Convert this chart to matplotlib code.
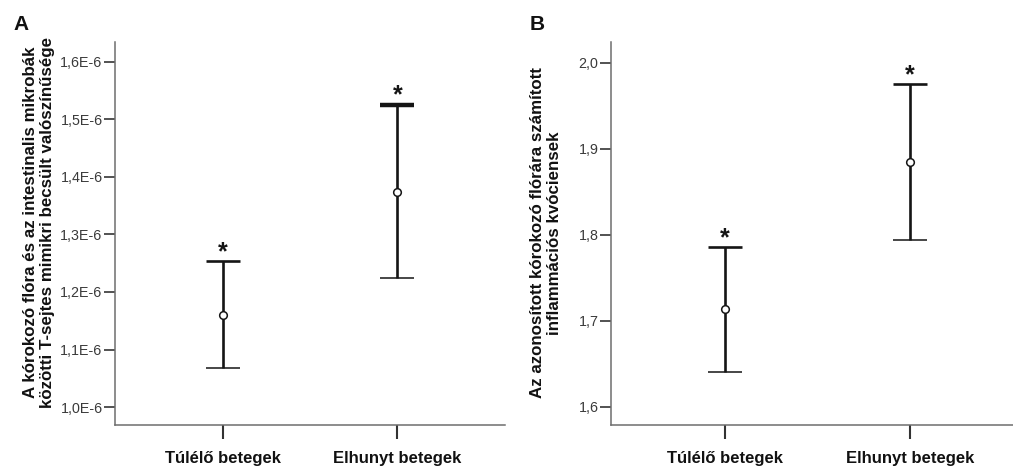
import matplotlib
matplotlib.use("Agg")
import matplotlib.pyplot as plt
from matplotlib.ticker import FuncFormatter
import numpy as np

plt.rcParams['font.family'] = ['Liberation Sans', 'DejaVu Sans']

categories = ['Túlélő betegek', 'Elhunyt betegek']

# Panel A
a_mean = [1.160e-6, 1.373e-6]
a_low = [1.068e-6, 1.224e-6]
a_high = [1.253e-6, 1.525e-6]
a_ticks = [1.0e-6, 1.1e-6, 1.2e-6, 1.3e-6, 1.4e-6, 1.5e-6, 1.6e-6]
a_ylabel = "A kórokozó flóra és az intestinalis mikrobák\nközötti T-sejtes mimikri becsült valószínűsége"

# Panel B
b_mean = [1.714, 1.884]
b_low = [1.641, 1.794]
b_high = [1.786, 1.975]
b_ticks = [1.6, 1.7, 1.8, 1.9, 2.0]
b_ylabel = "Az azonosított kórokozó flórára számított\ninflammációs kvóciensek"

W, H = 1013, 471
fig = plt.figure(figsize=(W / 100, H / 100), dpi=100)

spine_col = '#6e6e6e'
line_col = '#151515'


def panel(rect, mean, low, high, ylim, ticks, fmt, ylabel, letter, letter_x,
          ylabel_x, ylabel_y, capthicks):
    ax = fig.add_axes(rect)
    x = np.arange(len(categories))
    mean = np.array(mean)
    low = np.array(low)
    high = np.array(high)
    for i in range(len(x)):
        yerr = np.array([[mean[i] - low[i]], [high[i] - mean[i]]])
        eb = ax.errorbar([x[i]], [mean[i]], yerr=yerr, fmt='o', color=line_col,
                         ecolor=line_col, elinewidth=1.9, capsize=12.5,
                         capthick=1.9, ms=5.5, mfc='white', mec=line_col,
                         mew=1.1, zorder=3)
        caps = eb[1]
        caps[1].set_markeredgewidth(capthicks[i])
    for xi, hi in zip(x, high):
        ax.annotate('*', (xi, hi), xytext=(0, 6.5), textcoords='offset points',
                    ha='center', va='center', fontsize=18, fontweight='bold',
                    color=line_col)
    ax.set_xlim(-0.617, 1.617)
    ax.set_ylim(*ylim)
    ax.set_yticks(ticks)
    ax.yaxis.set_major_formatter(FuncFormatter(fmt))
    ax.set_xticks(x)
    ax.set_xticklabels(categories, fontsize=12, fontweight='bold', color='#111111')
    for s in ['top', 'right']:
        ax.spines[s].set_visible(False)
    for s in ['left', 'bottom']:
        ax.spines[s].set_color(spine_col)
        ax.spines[s].set_linewidth(1.1)
    ax.tick_params(axis='y', length=8, width=1.3, color='#444444',
                   labelsize=10.3, labelcolor='#3a3a3a', pad=1)
    ax.tick_params(axis='x', length=10, width=1.5, color='#333333', pad=9)
    fig.text(ylabel_x, 1 - ylabel_y / H, ylabel, rotation=90,
             ha='center', va='center', fontsize=12.2, fontweight='bold',
             color='#111111', linespacing=1.15)
    fig.text(letter_x, 1 - 25 / H, letter, ha='center', va='center',
             fontsize=15, fontweight='bold', color='#111111')
    return ax


def fmt_a(v, pos):
    return f"{v * 1e6:.1f}".replace('.', ',') + "E-6"


def fmt_b(v, pos):
    return f"{v:.1f}".replace('.', ',')


panel([115 / W, 46 / H, 390 / W, 383 / H], a_mean, a_low, a_high,
      (0.969e-6, 1.634e-6), a_ticks, fmt_a, a_ylabel, 'A', 21 / W, 39 / W, 222,
      [1.9, 3.2])
panel([611 / W, 46 / H, 413 / W, 383 / H], b_mean, b_low, b_high,
      (1.579, 2.024), b_ticks, fmt_b, b_ylabel, 'B', 537 / W, 546 / W, 233,
      [1.9, 1.9])

fig.savefig('out.png', dpi=100)
